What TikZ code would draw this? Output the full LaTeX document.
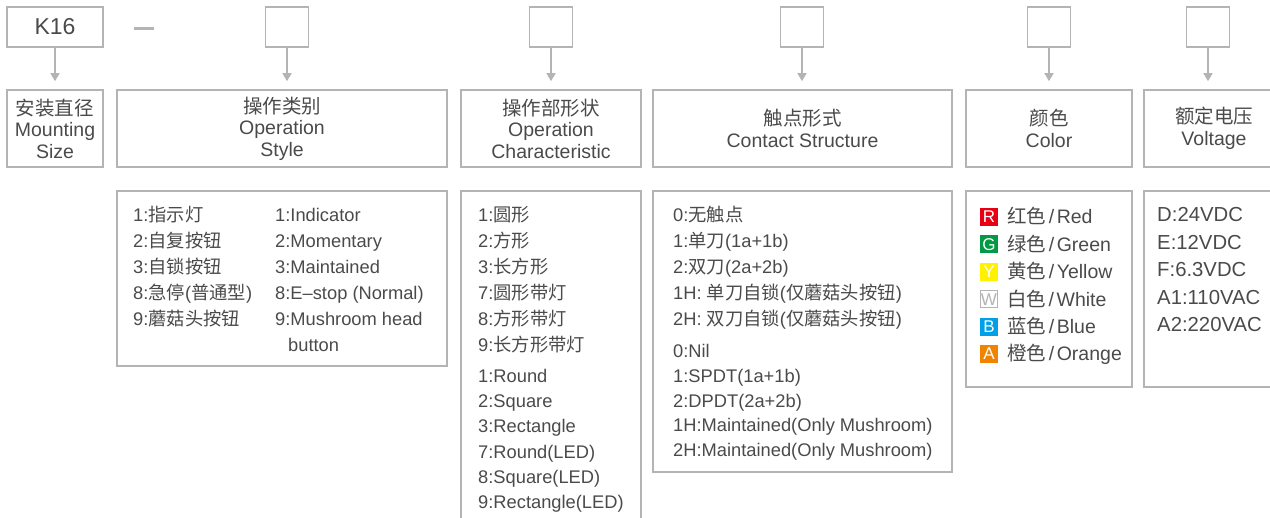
\documentclass[tikz,border=0pt]{standalone}
\usepackage{fontspec}
\setmainfont{Liberation Sans}
\newfontfamily\cjk{Noto Sans CJK SC}
\newcommand\zh[1]{{\cjk #1}}
\newcommand\slant{\hspace{2.5pt}/\hspace{2.5pt}}
\usetikzlibrary{arrows.meta}
\definecolor{frame}{HTML}{B4B4B4}
\definecolor{ink}{HTML}{4A4A4A}
\definecolor{tagred}{HTML}{E60012}
\definecolor{taggreen}{HTML}{009944}
\definecolor{tagyellow}{HTML}{FFF100}
\definecolor{tagblue}{HTML}{00A0E9}
\definecolor{tagorange}{HTML}{F08300}
\begin{document}
\begin{tikzpicture}[x=1pt,y=-1pt,
    box/.style={draw=frame,line width=1.6pt,inner sep=0pt},
    code/.style={box,minimum width=43pt,minimum height=40pt},
    head/.style={box,minimum height=77pt,align=center,text=ink,font=\fontsize{19.5}{21.5}\selectfont},
    pick/.style={draw=frame,line width=1.6pt,-{Triangle[width=9pt,length=8pt]},shorten >=8pt},
    item/.style={anchor=base west,inner sep=0pt,text=ink,font=\fontsize{18.3}{22}\selectfont},
    shade/.style={item,font=\fontsize{19.5}{22}\selectfont},
    tag/.style={minimum size=18pt,inner sep=0pt,text=white,font=\fontsize{17}{17}\selectfont}]
  \useasboundingbox (0,0) rectangle (1270,518);
  % code boxes
  \node[box,minimum width=96pt,minimum height=40pt,text=ink,font=\fontsize{23}{23}\selectfont] (k16) at (55,27) {K16};
  \draw[frame,line width=3pt] (134,29) -- (154,29);
  \node[code] (c1) at (287,27) {};
  \node[code] (c2) at (551,27) {};
  \node[code] (c3) at (802,27) {};
  \node[code] (c4) at (1049,27) {};
  \node[code] (c5) at (1208,27) {};
  % headings
  \node[head,minimum width=96pt] (mount) at (55,128.5) {\zh{安装直径}\\Mounting\\Size};
  \node[head,minimum width=330pt] (opstyle) at (282,128.5) {\zh{操作类别}\\Operation\\Style};
  \node[head,minimum width=180pt] (opchar) at (551,128.5) {\zh{操作部形状}\\Operation\\Characteristic};
  \node[head,minimum width=299pt] (contact) at (802.5,128.5) {\zh{触点形式}\\Contact Structure};
  \node[head,minimum width=166pt] (color) at (1049,128.5) {\zh{颜色}\\Color};
  \node[head,minimum width=140pt] (volt) at (1214,128.5) {\zh{额定电压}\\Voltage};
  \draw[pick] (k16.south) -- (mount.north);
  \draw[pick] (c1.south) -- (c1.south |- opstyle.north);
  \draw[pick] (c2.south) -- (opchar.north);
  \draw[pick] (c3.south) -- (c3.south |- contact.north);
  \draw[pick] (c4.south) -- (color.north);
  \draw[pick] (c5.south) -- (c5.south |- volt.north);
  % option lists
  \node[box,minimum width=330pt,minimum height=175pt] (stylelist) at (282,278.5) {};
  \node[box,minimum width=180pt,minimum height=340pt] (charlist) at (551,361) {};
  \node[box,minimum width=299pt,minimum height=281pt] (contactlist) at (802.5,331.5) {};
  \node[box,minimum width=166pt,minimum height=196pt] (colorlist) at (1049,289) {};
  \node[box,minimum width=140pt,minimum height=196pt] (voltlist) at (1214,289) {};
  \foreach \t [count=\i] in {1:\zh{指示灯},2:\zh{自复按钮},3:\zh{自锁按钮},8:\zh{急停}(\zh{普通型}),9:\zh{蘑菇头按钮}}
    \node[item] (sz\i) at (133,221.5+26*\i-26) {\t};
  \foreach \t [count=\i] in {1:Indicator,2:Momentary,3:Maintained,8:E–stop (Normal),9:Mushroom head}
    \node[item] (se\i) at (275,221.5+26*\i-26) {\t};
  \node[item] (se6) at (288,351.5) {button};
  \foreach \t [count=\i] in {1:\zh{圆形},2:\zh{方形},3:\zh{长方形},7:\zh{圆形带灯},8:\zh{方形带灯},9:\zh{长方形带灯}}
    \node[item] (hz\i) at (478,221.5+26*\i-26) {\t};
  \foreach \t [count=\i] in {1:Round,2:Square,3:Rectangle,7:Round(LED),8:Square(LED),9:Rectangle(LED)}
    \node[item] (he\i) at (478,382.5+25.2*\i-25.2) {\t};
  \foreach \t [count=\i] in {0:\zh{无触点},1:\zh{单刀}(1a+1b),2:\zh{双刀}(2a+2b),1H: \zh{单刀自锁}(\zh{仅蘑菇头按钮}),2H: \zh{双刀自锁}(\zh{仅蘑菇头按钮})}
    \node[item] (tz\i) at (673,221.5+26*\i-26) {\t};
  \foreach \t [count=\i] in {0:Nil,1:SPDT(1a+1b),2:DPDT(2a+2b),1H:Maintained(Only Mushroom),2H:Maintained(Only Mushroom)}
    \node[item] (te\i) at (673,357.5+24.8*\i-24.8) {\t};
  % colours
  \node[tag,fill=tagred] (r) at (989,217) {R};
  \node[tag,fill=taggreen] (g) at (989,244.4) {G};
  \node[tag,fill=tagyellow] (y) at (989,271.8) {Y};
  \node[tag,fill=white,draw=frame,line width=1pt,minimum size=17pt,text=frame] (w) at (989,299.2) {W};
  \node[tag,fill=tagblue] (b) at (989,326.6) {B};
  \node[tag,fill=tagorange] (a) at (989,354) {A};
  \node[shade] (rt) at ([xshift=9pt,yshift=-7pt]r.east) {\zh{红色}\slant Red};
  \node[shade] (gt) at ([xshift=9pt,yshift=-7pt]g.east) {\zh{绿色}\slant Green};
  \node[shade] (yt) at ([xshift=9pt,yshift=-7pt]y.east) {\zh{黄色}\slant Yellow};
  \node[shade] (wt) at ([xshift=9pt,yshift=-7pt]w.east) {\zh{白色}\slant White};
  \node[shade] (bt) at ([xshift=9pt,yshift=-7pt]b.east) {\zh{蓝色}\slant Blue};
  \node[shade] (at) at ([xshift=9pt,yshift=-7pt]a.east) {\zh{橙色}\slant Orange};
  \foreach \t [count=\i] in {D:24VDC,E:12VDC,F:6.3VDC,A1:110VAC,A2:220VAC}
    \node[item,font=\fontsize{20.3}{22}\selectfont] (v\i) at (1157,222+27.5*\i-27.5) {\t};
\end{tikzpicture}
\end{document}
